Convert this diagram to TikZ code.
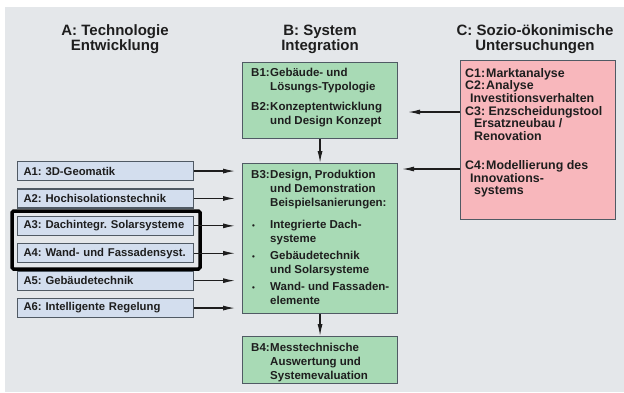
\documentclass[tikz,border=0pt]{standalone}
\usepackage{fontspec}
\setmainfont{Liberation Sans}
\usetikzlibrary{arrows.meta}
\definecolor{bg}{HTML}{E4E7EA}
\definecolor{ablue}{HTML}{D3DEEE}
\definecolor{bgreen}{HTML}{A8DAB5}
\definecolor{cpink}{HTML}{F8B7BC}
\definecolor{edge}{HTML}{505A64}
\definecolor{ink}{HTML}{1E1E1E}
\begin{document}
\frenchspacing
\begin{tikzpicture}[x=1pt,y=-1pt,
  abox/.style={draw=edge, line width=1.1pt, fill=ablue, anchor=north west, minimum width=176pt, minimum height=19pt, text width=164pt, inner xsep=6pt, inner ysep=0pt, align=left, font=\fontsize{11.3}{13}\selectfont\bfseries, text=ink},
  box/.style={draw=edge, line width=1.1pt, anchor=north west, inner sep=0pt},
  txt/.style={anchor=base west, inner sep=0pt, text=ink},
  btxt/.style={txt, font=\fontsize{11.5}{14}\selectfont\bfseries},
  ctxt/.style={txt, font=\fontsize{12.4}{12.5}\selectfont\bfseries},
  ttl/.style={text=ink, font=\fontsize{15}{15.5}\selectfont\bfseries, inner sep=0pt, anchor=base},
  arr/.style={line width=1.2pt, draw=ink, -{Latex[length=12pt,width=5pt]}},
]
\useasboundingbox (0,0) rectangle (624,392);
\fill[white] (0,0) rectangle (624,392);
\fill[bg] (5,7) rectangle (624,392);

% titles
\node[ttl] (tA) at (115,35) {\begin{tabular}[t]{@{}c@{}}A: Technologie\\Entwicklung\end{tabular}};
\node[ttl] (tB) at (320,35) {\begin{tabular}[t]{@{}c@{}}B: System\\Integration\end{tabular}};
\node[ttl] (tC) at (535,35) {\begin{tabular}[t]{@{}c@{}}C: Sozio-ökonimische\\Untersuchungen\end{tabular}};

% A boxes
\node[abox] (A1) at (17,161) {A1: 3D-Geomatik};
\node[abox] (A2) at (17,188.4) {A2: Hochisolationstechnik};
\node[abox] (A3) at (17,215.8) {A3: Dachintegr. Solarsysteme};
\node[abox] (A4) at (17,243.2) {A4: Wand- und Fassadensyst.};
\node[abox] (A5) at (17,270.6) {A5: Gebäudetechnik};
\node[abox] (A6) at (17,298) {A6: Intelligente Regelung};
\draw[line width=3.5pt, black, rounded corners=1.5pt] (12,211) rectangle (200,269);

% B boxes
\node[box, fill=bgreen, minimum width=155pt, minimum height=76pt] (B12) at (242,62) {};
\node[box, fill=bgreen, minimum width=155pt, minimum height=150pt] (B3) at (242,163) {};
\node[box, fill=bgreen, minimum width=155pt, minimum height=47pt] (B4) at (242,336) {};
\node[btxt] (B12t) at (251,76) {\begin{tabular}[t]{@{}l@{\hspace{0.5pt}}l@{}}
B1: & Gebäude- und\\ & Lösungs-Typologie\\[6pt]
B2: & Konzeptentwicklung\\ & und Design Konzept\end{tabular}};
\node[btxt] (B3t) at (251,178) {\begin{tabular}[t]{@{}l@{\hspace{0.5pt}}l@{}}
B3: & Design, Produktion\\ & und Demonstration\\ & Beispielsanierungen:\\[8pt]
\hspace*{1pt}{\fontsize{8}{8}\selectfont\textbullet} & Integrierte Dach-\\ & systeme\\[3pt]
\hspace*{1pt}{\fontsize{8}{8}\selectfont\textbullet} & Gebäudetechnik\\ & und Solarsysteme\\[3pt]
\hspace*{1pt}{\fontsize{8}{8}\selectfont\textbullet} & Wand- und Fassaden-\\ & elemente\end{tabular}};
\node[btxt] (B4t) at (251,351) {\begin{tabular}[t]{@{}l@{\hspace{0.5pt}}l@{}}
B4: & Messtechnische\\ & Auswertung und\\ & Systemevaluation\end{tabular}};

% C box
\node[box, fill=cpink, minimum width=155pt, minimum height=159pt] (C) at (460,60) {};
\node[ctxt] (Ct) at (465,77) {\begin{tabular}[t]{@{}l@{}}
C1:\hspace{1pt}Marktanalyse\\
C2:\hspace{1pt}Analyse\\
\hspace*{5pt}Investitionsverhalten\\
C3: Enzscheidungstool\\
\hspace*{9pt}Ersatzneubau /\\
\hspace*{9pt}Renovation\\[16pt]
C4:\hspace{1pt}Modellierung des\\
\hspace*{5pt}Innovations-\\
\hspace*{9pt}systems\end{tabular}};

% connectors
\foreach \i in {1,...,6} {
  \draw[arr, shorten >=7pt] (A\i.east) -- (A\i.east -| B3.west);
}
\draw[arr] (B12.south) -- (B3.north);
\draw[arr] (B3.south) -- (B4.north);
\coordinate (c1) at (460,112);
\coordinate (c2) at (460,169);
\draw[arr, shorten >=10pt] (c1) -- (c1 -| B12.east);
\draw[arr, shorten >=4pt] (c2) -- (c2 -| B3.east);
\end{tikzpicture}
\end{document}
